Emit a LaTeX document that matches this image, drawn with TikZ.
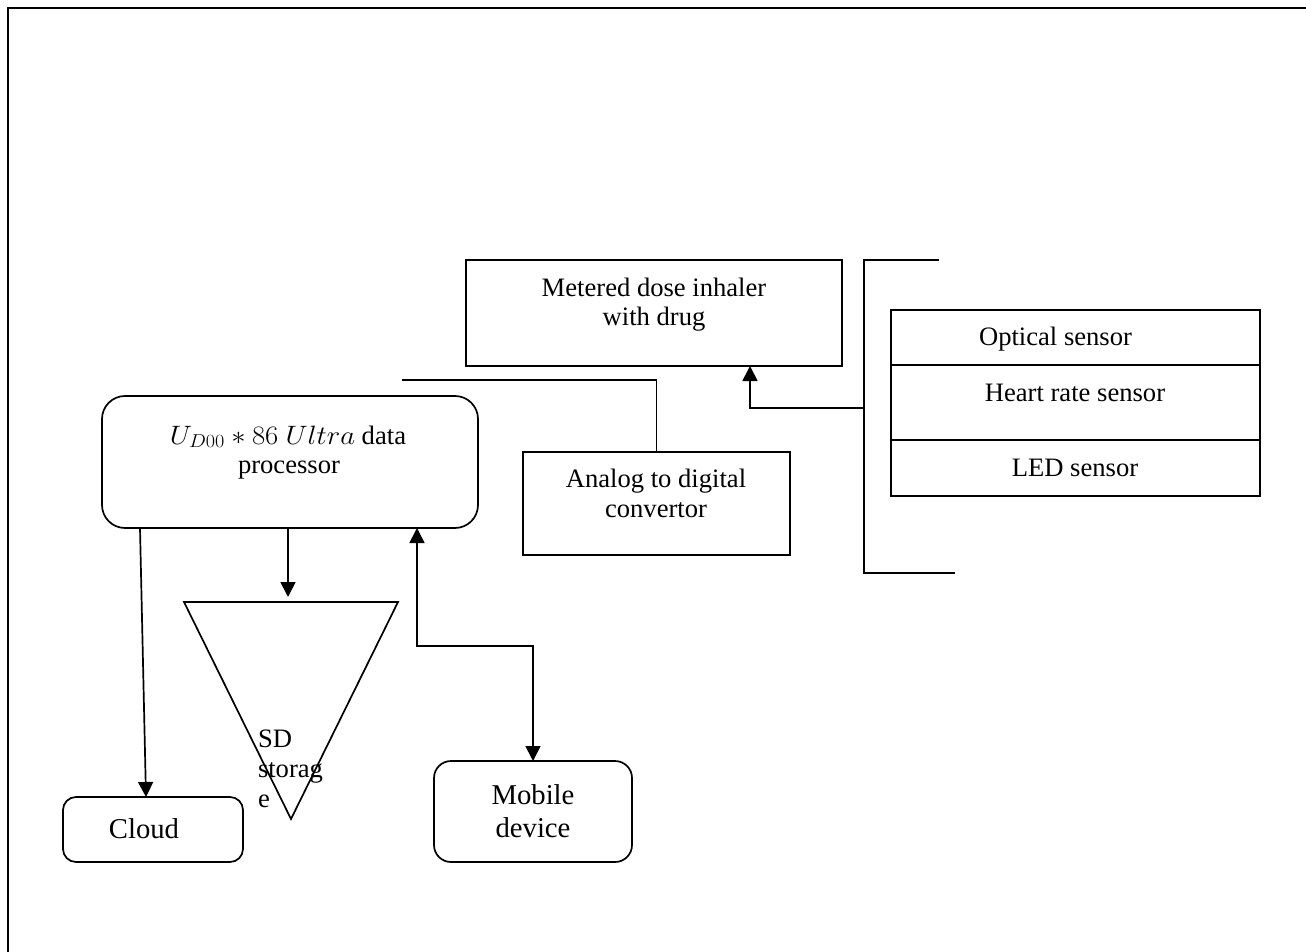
\RequirePackage{fix-cm}
\documentclass[tikz,border=0pt]{standalone}
\usepackage{fontspec}
\setmainfont{Liberation Serif}
\usetikzlibrary{arrows.meta}
\begin{document}
\begin{tikzpicture}[x=1pt,y=-1pt,
  every node/.style={font=\fontsize{26.6}{30}\selectfont},
  big/.style={font=\fontsize{28.7}{33}\selectfont},
  ln/.style={line width=1.7pt},
  box/.style={draw, line width=1.7pt, rectangle, inner sep=0pt, outer sep=0pt},
  rbox/.style={box, rounded corners=#1},
  txt/.style={anchor=base, inner sep=0pt, outer sep=0pt},
  lt/.style={anchor=base west, inner sep=0pt, outer sep=0pt},
  arr/.style={ln, -{Triangle[width=15pt,length=15pt]}},
  darr/.style={ln, {Triangle[width=15pt,length=15pt]}-{Triangle[width=15pt,length=15pt]}}
]
\useasboundingbox (0,0) rectangle (1306,952);
% outer border
\draw[line width=2pt] (8,952) -- (8,8) -- (1306,8);

% metered dose inhaler
\node[box, minimum width=376, minimum height=106] (mdi) at (654,313) {};
\node[txt] (mdi1) at (654,296) {Metered dose inhaler};
\node[txt] (mdi2) at (654,325) {with drug};

% processor
\node[rbox=23pt, minimum width=376, minimum height=132] (proc) at (290,462) {};
\node[txt] (proc1) at (288,444) {\scalebox{1.08}[1.0]{$U_{D00} * 86\ Ultra$} data};
\node[txt] (proc2) at (289,473) {processor};

% ADC
\node[box, minimum width=267, minimum height=103] (adc) at (656.5,503.5) {};
\node[txt] (adc1) at (656,487) {Analog to digital};
\node[txt] (adc2) at (656,517) {convertor};

% sensors
\node[box, minimum width=369, minimum height=55] (opt) at (1075.5,337.5) {};
\node[box, minimum width=369, minimum height=75] (hr) at (1075.5,402.5) {};
\node[box, minimum width=369, minimum height=56] (led) at (1075.5,468) {};
\node[txt] (opt1) at (1055.5,345) {Optical sensor};
\node[txt] (hr1) at (1075,401) {Heart rate sensor};
\node[txt] (led1) at (1075,476) {LED sensor};

% bracket
\coordinate (bt) at (939,260);
\coordinate (bb) at (955,573);
\coordinate (bm) at (864,408);
\draw[ln] (bt) -- (864,260) -- (864,573) -- (bb);
\draw[arr] (bm) -- (750,408) -- (750,366);

% processor to ADC line
\coordinate (pl) at (402,380);
\draw[ln] (pl) -- (656.5,380) -- (adc.north);

% cloud
\node[rbox=13pt, minimum width=180, minimum height=65] (cloud) at (153,829.5) {};
\node[txt, big] (cloud1) at (144,838) {Cloud};
\draw[arr] (140,528) -- (146,797);

% SD storage triangle
\coordinate (sdl) at (184,602);
\coordinate (sdr) at (398,602);
\coordinate (sdb) at (291,819);
\coordinate (sdt) at (288,597);
\draw[ln, line join=miter] (sdl) -- (sdr) -- (sdb) -- cycle;
\draw[arr] (288,528) -- (sdt);
\node[lt] (sd1) at (258,747) {SD};
\node[lt] (sd2) at (258,777) {storag};
\node[lt] (sd3) at (258,807) {e};

% mobile
\node[rbox=17pt, minimum width=198, minimum height=101] (mob) at (533,811.5) {};
\node[txt, big] (mob1) at (533,804) {Mobile};
\node[txt, big] (mob2) at (533,837) {device};
\draw[darr] (417,528) -- (417,646) -- (533,646) -- (mob.north);
\end{tikzpicture}
\end{document}
